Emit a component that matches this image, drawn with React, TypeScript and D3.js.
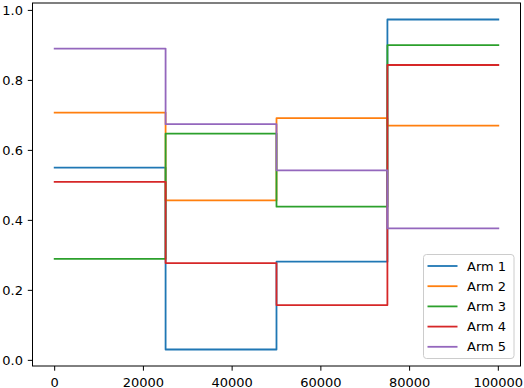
import React from "react";
import * as d3 from "d3";

const armNames = ["Arm 1", "Arm 2", "Arm 3", "Arm 4", "Arm 5"];
const colors = ["#1f77b4", "#ff7f0e", "#2ca02c", "#d62728", "#9467bd"];
const changePoints = [0, 25000, 50000, 75000, 99999];
const arm1 = [0.551, 0.031, 0.282, 0.974];
const arm2 = [0.708, 0.457, 0.692, 0.671];
const arm3 = [0.29, 0.648, 0.439, 0.901];
const arm4 = [0.51, 0.278, 0.158, 0.844];
const arm5 = [0.891, 0.675, 0.543, 0.377];
const armValues = [arm1, arm2, arm3, arm4, arm5];
const xTicks = [0, 20000, 40000, 60000, 80000, 100000];
const yTicks = [0.0, 0.2, 0.4, 0.6, 0.8, 1.0];

const W = 524;
const H = 388;
const L = 32.5, R = 520.5, T = 3, B = 366;
const FONT = "DejaVu Sans, sans-serif";

function stepPoints(vals: number[]): [number, number][] {
  const pts: [number, number][] = [];
  for (let i = 0; i < vals.length; i++) {
    const x0 = changePoints[i];
    const x1 = i === vals.length - 1 ? changePoints[i + 1] : changePoints[i + 1] - 1;
    pts.push([x0, vals[i]]);
    pts.push([x1, vals[i]]);
  }
  return pts;
}

export default function App() {
  const xMin = changePoints[0], xMax = changePoints[changePoints.length - 1];
  const xm = (xMax - xMin) * 0.05;
  const all = armValues.flat();
  const yMin = d3.min(all)!, yMax = d3.max(all)!;
  const ym = (yMax - yMin) * 0.05;
  const x = d3.scaleLinear().domain([xMin - xm, xMax + xm]).range([L, R]);
  const y = d3.scaleLinear().domain([yMin - ym, yMax + ym]).range([B, T]);
  const line = d3.line<[number, number]>().x(d => x(d[0])).y(d => y(d[1]));

  const legX = 423.5, legY = 254.5, legW = 90.5, legH = 104;
  return (
    <div style={{ position: "fixed", left: 0, top: 0 }}>
      <svg width={W} height={H} style={{ display: "block" }}>
        <rect x={0} y={0} width={W} height={H} fill="#fff" />
        {armValues.map((v, i) => (
          <path key={i} d={line(stepPoints(v))!} fill="none" stroke={colors[i]} strokeWidth={1.8} strokeLinejoin="round" strokeLinecap="square" />
        ))}
        <rect x={L} y={T} width={R - L} height={B - T} fill="none" stroke="#000" strokeWidth={1} />
        {xTicks.map(t => (
          <g key={t}>
            <line x1={x(t)} x2={x(t)} y1={B} y2={B + 4.7} stroke="#000" strokeWidth={1} />
            <text x={x(t)} y={386.5} textAnchor="middle" fontFamily={FONT} fontSize={13} fill="#000">{t}</text>
          </g>
        ))}
        {yTicks.map(t => (
          <g key={t}>
            <line x1={L} x2={L - 4.7} y1={y(t)} y2={y(t)} stroke="#000" strokeWidth={1} />
            <text x={23} y={y(t)} dy="0.36em" textAnchor="end" fontFamily={FONT} fontSize={13} fill="#000">{t.toFixed(1)}</text>
          </g>
        ))}
        <rect x={legX} y={legY} width={legW} height={legH} rx={3} fill="#fff" fillOpacity={0.8} stroke="#cccccc" strokeWidth={1} />
        {armNames.map((n, i) => {
          const cy = 266 + i * 20.2;
          return (
            <g key={n}>
              <line x1={427.5} x2={457.5} y1={cy} y2={cy} stroke={colors[i]} strokeWidth={1.8} />
              <text x={467} y={cy} dy="0.36em" fontFamily={FONT} fontSize={13} fill="#000">{n}</text>
            </g>
          );
        })}
      </svg>
    </div>
  );
}
